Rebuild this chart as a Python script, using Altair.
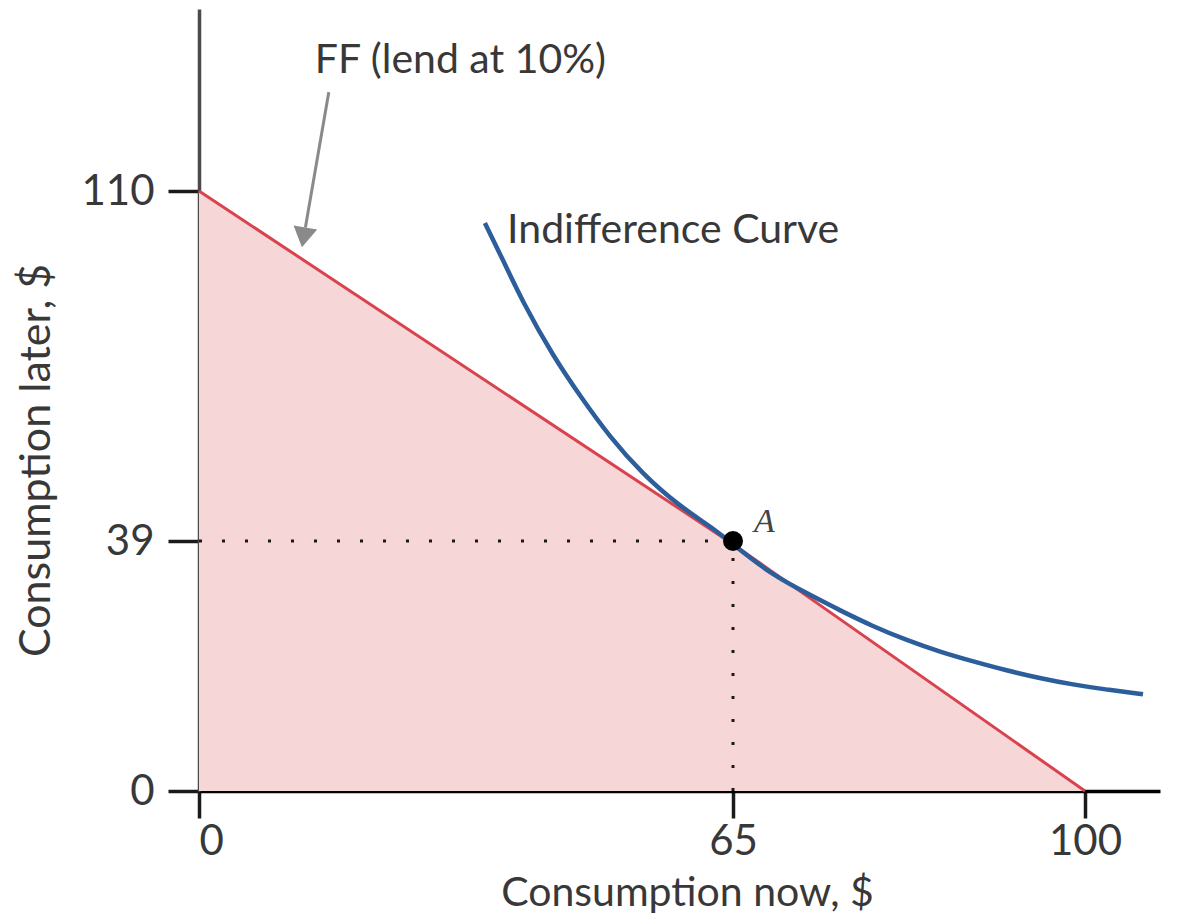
import altair as alt
import pandas as pd

# ---- data ----
x_ticks = [0, 65, 100]
y_ticks = [0, 39, 110]

# piecewise (schematic) axes, as drawn in the original
x_domain = [0, 65, 100, 107.5]
y_domain = [0, 39, 110, 147]

budget_x = [0, 65, 100]
budget_y = [110, 38.5, 0]

ic_x = [34.8, 37.0, 39.4, 43.1, 46.4, 50.0, 54.0, 58.2, 63.1, 65.2, 69.0, 72.4,
        75.6, 78.9, 82.3, 85.6, 88.9, 92.2, 95.5, 98.8, 102.2, 105.8]
ic_y = [103.5, 96.0, 87.5, 76.5, 68.4, 60.1, 52.6, 46.4, 41.0, 38.2, 33.6, 30.8,
        28.2, 25.7, 23.5, 21.7, 20.2, 18.8, 17.6, 16.6, 15.8, 15.1]

point_a = {"x": 65, "y": 39}

labels_text = ["FF (lend at 10%)", "Indifference Curve"]
labels_x = [14.1, 37.5]
labels_y = [134.0, 99.5]

arrow_from = (15.8, 130.1)
arrow_to = (12.95, 102.6)

# ---- styling ----
FONT = "Lato"
TXT = "#383838"
W, H = 961, 782
x_scale = alt.Scale(domain=x_domain, range=[0, 534, 886, W], nice=False, zero=False)
y_scale = alt.Scale(domain=y_domain, range=[H, 532, 182, 0], nice=False, zero=False)

x_axis = alt.Axis(values=x_ticks, grid=False, domainColor="#000000", domainWidth=3.5,
                  tickColor="#1a1a1a", tickWidth=3.5, tickSize=27, labelFont=FONT,
                  labelFontSize=42, labelColor=TXT, labelPadding=3,
                  title="Consumption now, $", titleFont=FONT, titleFontSize=41,
                  titleFontWeight="normal", titleColor=TXT, titleX=488,
                  titleY=114, titleAlign="center", titleBaseline="alphabetic")
y_axis = alt.Axis(values=y_ticks, grid=False, domainColor="#4a4a4a", domainWidth=3.5,
                  tickColor="#1a1a1a", tickWidth=3.5, tickSize=31, labelFont=FONT,
                  labelFontSize=42, labelColor=TXT, labelPadding=14,
                  labelBaseline="middle",
                  title="Consumption later, $", titleFont=FONT, titleFontSize=43,
                  titleFontWeight="normal", titleColor=TXT, titleX=-150,
                  titleY=451, titleAlign="center", titleBaseline="alphabetic")

def X(field="x"):
    return alt.X(f"{field}:Q", scale=x_scale, axis=x_axis)

def Y(field="y"):
    return alt.Y(f"{field}:Q", scale=y_scale, axis=y_axis)

budget_df = pd.DataFrame({"x": budget_x, "y": budget_y})
ic_df = pd.DataFrame({"x": ic_x, "y": ic_y})
a_df = pd.DataFrame([point_a])
lab_df = pd.DataFrame({"x": labels_x, "y": labels_y, "t": labels_text})

area = alt.Chart(budget_df).mark_area(color="#f6d6d7").encode(x=X(), y=Y(), y2=alt.datum(0))
red = alt.Chart(budget_df).mark_line(color="#d9434d", strokeWidth=3).encode(x=X(), y=Y())
blue = alt.Chart(ic_df).mark_line(color="#2c5e9c", strokeWidth=4.5,
                                   interpolate="basis").encode(x=X(), y=Y())

hdot = alt.Chart(a_df).transform_calculate(x0="0").mark_rule(
    color="#1a1a1a", strokeWidth=3, strokeDash=[3, 20]).encode(
    x=alt.X("x0:Q", scale=x_scale, axis=x_axis), x2="x:Q", y=Y())
vdot = alt.Chart(a_df).transform_calculate(y0="0").mark_rule(
    color="#1a1a1a", strokeWidth=3, strokeDash=[3, 20]).encode(
    x=X(), y=alt.Y("y0:Q", scale=y_scale, axis=y_axis), y2="y:Q")

dot = alt.Chart(a_df).mark_circle(color="#000000", size=400, opacity=1).encode(x=X(), y=Y())
a_lab = alt.Chart(a_df).mark_text(text="A", font="Liberation Serif", fontStyle="italic",
                                  fontSize=34, color="#444444", align="left",
                                  baseline="alphabetic", dx=21, dy=-9).encode(x=X(), y=Y())

labels = alt.Chart(lab_df).mark_text(font=FONT, fontSize=41, color=TXT, align="left",
                                     baseline="alphabetic").encode(x=X(), y=Y(), text="t:N")

arrow_df = pd.DataFrame({"x": [arrow_from[0]], "y": [arrow_from[1]],
                         "x2": [arrow_to[0]], "y2": [arrow_to[1]]})
arrow_line = alt.Chart(arrow_df).mark_rule(color="#8a8a8a", strokeWidth=3).encode(
    x=X(), y=Y(), x2="x2:Q", y2="y2:Q")
arrow_head = alt.Chart(arrow_df).mark_point(shape="M0,-1L0.6,0L-0.6,0Z", size=1600,
                                            filled=True, color="#8a8a8a", opacity=1,
                                            angle=190).encode(
    x=alt.X("x2:Q", scale=x_scale, axis=x_axis), y=alt.Y("y2:Q", scale=y_scale, axis=y_axis))

chart = alt.layer(area, red, blue, hdot, vdot, dot, a_lab, labels, arrow_line, arrow_head).properties(
    width=W, height=H,
    padding={"left": 191, "top": 1, "right": 17, "bottom": 132},
    autosize=alt.AutoSizeParams(type="none"),
    background="#ffffff",
).configure_view(stroke=None)

chart.save("out.html", embed_options={"renderer": "svg", "actions": False})
